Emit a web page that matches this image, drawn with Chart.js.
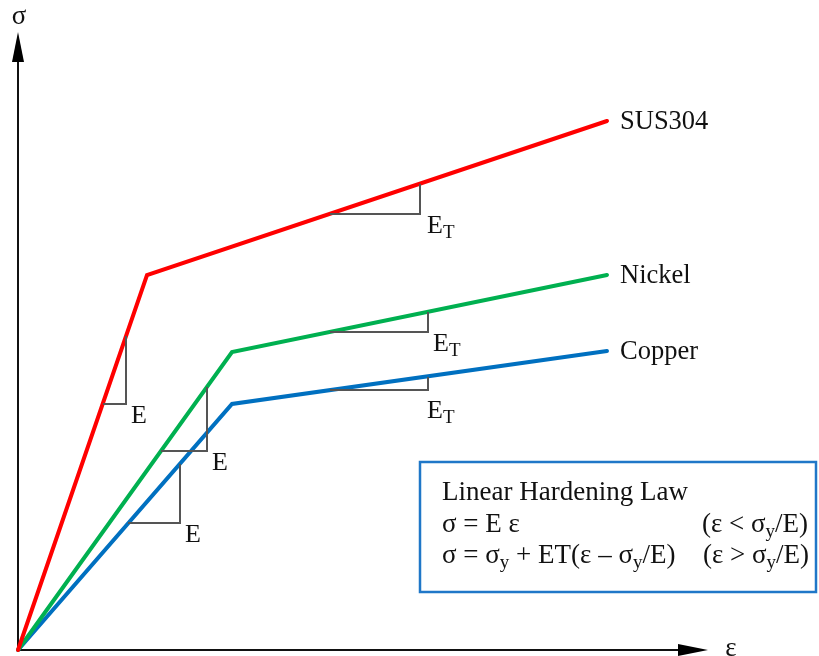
<!DOCTYPE html>
<html>
<head>
<meta charset="utf-8">
<script src="https://cdn.jsdelivr.net/npm/chart.js@4.4.1/dist/chart.umd.min.js"></script>
<style>
  html, body { margin: 0; padding: 0; background: #fff; }
  #wrap { width: 819px; height: 656px; }
</style>
</head>
<body>
<div id="wrap"><canvas id="curvas" width="819" height="656"></canvas></div>
<script>
// Curvas tensão-deformação bilineares (lei de encruamento linear)
const seriesNames = ['SUS304', 'Nickel', 'Copper'];
const seriesColors = ['#ff0000', '#00b050', '#0070c0'];

// deformação (ε) e tensão (σ) em unidades do diagrama: origem, escoamento, fim
const sus304Eps = [0, 129, 589];
const sus304Sig = [0, 375, 529];
const nickelEps = [0, 214, 589];
const nickelSig = [0, 298, 375];
const copperEps = [0, 214, 589];
const copperSig = [0, 246, 299];

// triângulos de inclinação: E (trecho elástico) e E_T (trecho de encruamento)
const triSusE   = [[85, 246], [108, 246], [108, 314]];
const triNickE  = [[143, 199], [189, 199], [189, 263]];
const triCopE   = [[110, 127], [162, 127], [162, 186]];
const triSusET  = [[312, 436], [402, 436], [402, 466]];
const triNickET = [[312, 318], [410, 318], [410, 338]];
const triCopET  = [[312, 260], [410, 260], [410, 273]];

const serif = '"Liberation Serif", "Times New Roman", serif';

function pontos(xs, ys) {
  return xs.map((x, i) => ({ x: x, y: ys[i] }));
}
function tri(arr) {
  return arr.map(p => ({ x: p[0], y: p[1] }));
}

// texto com subscritos: partes = [[texto, subscrito?], ...]
function textoRico(ctx, x, y, partes, size, escala = 0.65) {
  let cx = x;
  partes.forEach(([t, sub]) => {
    ctx.font = (sub ? Math.round(size * escala) : size) + 'px ' + serif;
    ctx.fillText(t, cx, sub ? y + size * 0.2 : y);
    cx += ctx.measureText(t).width;
  });
}

const desenhos = {
  id: 'desenhos',
  beforeDatasetsDraw(chart) {
    const { ctx, scales: { x, y } } = chart;
    const x0 = x.getPixelForValue(0), y0 = y.getPixelForValue(0);
    const xTip = x.getPixelForValue(690), yTip = y.getPixelForValue(618);
    ctx.save();
    ctx.strokeStyle = '#111';
    ctx.fillStyle = '#000';
    ctx.lineWidth = 2;
    // eixo σ
    ctx.beginPath();
    ctx.moveTo(x0, y0); ctx.lineTo(x0, yTip + 20);
    ctx.stroke();
    ctx.beginPath();
    ctx.moveTo(x0, yTip); ctx.lineTo(x0 - 6, yTip + 30); ctx.lineTo(x0 + 6, yTip + 30);
    ctx.closePath(); ctx.fill();
    // eixo ε
    ctx.beginPath();
    ctx.moveTo(x0, y0); ctx.lineTo(xTip - 20, y0);
    ctx.stroke();
    ctx.beginPath();
    ctx.moveTo(xTip, y0); ctx.lineTo(xTip - 30, y0 - 6); ctx.lineTo(xTip - 30, y0 + 6);
    ctx.closePath(); ctx.fill();
    ctx.restore();
  },
  afterDatasetsDraw(chart) {
    const { ctx, scales: { x, y } } = chart;
    const px = v => x.getPixelForValue(v), py = v => y.getPixelForValue(v);
    ctx.save();
    ctx.fillStyle = '#111';
    ctx.textBaseline = 'alphabetic';
    ctx.textAlign = 'left';

    // rótulos dos eixos
    ctx.font = '27px ' + serif;
    ctx.textAlign = 'center';
    ctx.fillText('σ', px(1), 24);
    ctx.fillText('ε', px(713), py(0) + 6);
    ctx.textAlign = 'left';

    // nomes dos materiais no fim de cada curva
    const fins = [[sus304Eps, sus304Sig], [nickelEps, nickelSig], [copperEps, copperSig]];
    ctx.font = '26.5px ' + serif;
    fins.forEach(([xs, ys], i) => {
      const n = xs.length - 1;
      ctx.fillText(seriesNames[i], px(xs[n]) + 13, py(ys[n]) + 8);
    });

    // E e E_T junto aos triângulos
    [triSusE, triNickE, triCopE].forEach(t => {
      textoRico(ctx, px(t[1][0]) + 5, py(t[1][1]) + 19, [['E']], 26);
    });
    const desloc = [[7, 19], [5, 19], [-1, 28]];
    [triSusET, triNickET, triCopET].forEach((t, i) => {
      textoRico(ctx, px(t[1][0]) + desloc[i][0], py(t[1][1]) + desloc[i][1],
        [['E'], ['T', true]], 26, 0.72);
    });

    // quadro com a lei de encruamento
    const bx = 420, by = 462, bw = 396, bh = 130;
    ctx.strokeStyle = '#1f77c8';
    ctx.lineWidth = 2.5;
    ctx.strokeRect(bx, by, bw, bh);
    ctx.fillStyle = '#111';
    ctx.font = '27px ' + serif;
    ctx.fillText('Linear Hardening Law', 442, 500);
    textoRico(ctx, 442, 532, [['σ = E ε']], 27, 0.7);
    textoRico(ctx, 702, 532, [['(ε < σ'], ['y', true], ['/E)']], 27, 0.7);
    textoRico(ctx, 442, 563, [['σ = σ'], ['y', true], [' + ET(ε – σ'], ['y', true], ['/E)']], 27, 0.7);
    textoRico(ctx, 703, 563, [['(ε > σ'], ['y', true], ['/E)']], 27, 0.7);
    ctx.restore();
  }
};

const linhaSerie = (dados, i) => ({
  data: dados,
  borderColor: seriesColors[i],
  borderWidth: 4,
  showLine: true,
  pointRadius: 0,
  fill: false,
  tension: 0,
  borderCapStyle: 'round',
  borderJoinStyle: 'miter'
});
const linhaTri = dados => ({
  data: tri(dados),
  borderColor: '#555',
  borderWidth: 2,
  showLine: true,
  pointRadius: 0,
  fill: false
});

const ctx = document.getElementById('curvas').getContext('2d');
const chart = new Chart(ctx, {
  type: 'scatter',
  data: {
    datasets: [
      linhaTri(triSusE), linhaTri(triNickE), linhaTri(triCopE),
      linhaTri(triSusET), linhaTri(triNickET), linhaTri(triCopET),
      linhaSerie(pontos(sus304Eps, sus304Sig), 0),
      linhaSerie(pontos(nickelEps, nickelSig), 1),
      linhaSerie(pontos(copperEps, copperSig), 2)
    ]
  },
  options: {
    responsive: false,
    animation: false,
    layout: { padding: 0 },
    plugins: { legend: { display: false }, tooltip: { enabled: false } },
    scales: {
      x: { type: 'linear', min: -18, max: 801, display: false },
      y: { type: 'linear', min: -6, max: 650, display: false }
    }
  },
  plugins: [desenhos]
});
</script>
</body>
</html>
